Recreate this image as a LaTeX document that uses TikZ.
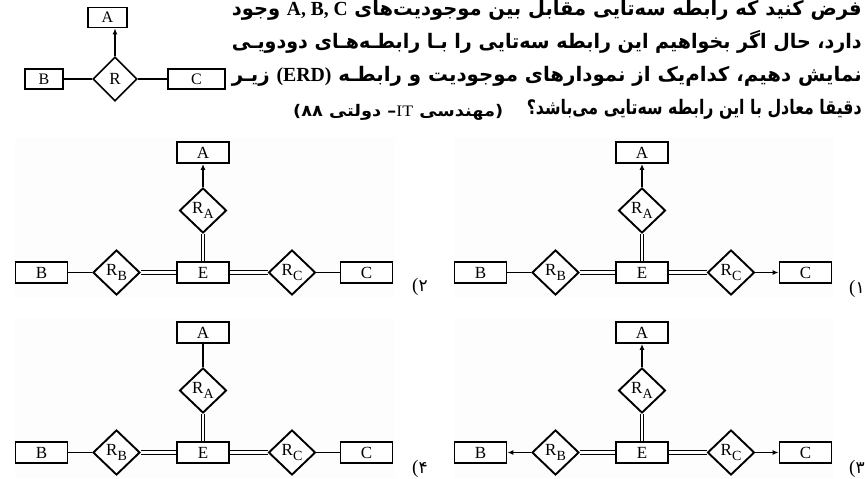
\documentclass[tikz,border=0pt]{standalone}
\usepackage{fontspec}
\usepackage{graphicx}
\usetikzlibrary{shapes.geometric,arrows.meta,backgrounds}
\setmainfont{Liberation Serif}
\newfontfamily\fa[Script=Arabic]{DejaVu Sans}
\newfontfamily\fadig{DejaVu Sans}
\TeXXeTstate=1
\definecolor{panel}{RGB}{253,253,253}
\pgfdeclarelayer{back}
\pgfsetlayers{back,background,main}
\newcommand\Rs[1]{R\kern0.2pt\raisebox{-4.5pt}{\fontsize{14}{14}\selectfont #1}}
\newcommand\optlabel[1]{\hbox{\rmfamily\fontsize{19}{20}\selectfont(}\hbox{\fadig\fontsize{17}{20}\selectfont #1}}
\tikzset{
  ent/.style={draw, fill=white, line width=1.9pt, minimum width=52pt, minimum height=21pt, inner sep=0pt, font=\fontsize{17}{17}\selectfont},
  sent/.style={draw, fill=white, line width=1.6pt, minimum height=20pt, inner sep=0pt, font=\fontsize{16}{16}\selectfont},
  rel/.style={draw, fill=white, diamond, aspect=1, line width=1.9pt, minimum width=47pt, minimum height=45pt, inner sep=0pt, font=\fontsize{17}{17}\selectfont},
  ln/.style={line width=1.3pt},
  arr/.style={line width=1.3pt, -{Latex[length=6pt,width=5pt]}},
  dbl/.style={line width=1.2pt, double, double distance=2.2pt},
  txt/.style={inner sep=0pt, font=\fa\bfseries\fontsize{20}{24}\selectfont},
  lbl/.style={inner sep=0pt},
}
\newcommand\erd[6]{%
\begin{scope}[shift={(#2,#3)}]
  \begin{pgfonlayer}{back}
    \fill[panel] (15,138) rectangle (395,298);
  \end{pgfonlayer}
  \node[ent] (#1A) at (203,152.5) {A};
  \node[rel] (#1RA) at (203,210.5) {\Rs{A}};
  \node[ent] (#1E) at (203,272.5) {E};
  \node[ent] (#1B) at (41.5,272.5) {B};
  \node[rel] (#1RB) at (116.5,272.5) {\Rs{B}};
  \node[rel] (#1RC) at (292,272.5) {\Rs{C}};
  \node[ent] (#1C) at (366.5,272.5) {C};
  \begin{pgfonlayer}{background}
    \draw[dbl] (#1E) -- (#1RA);
    \draw[dbl] (#1E) -- (#1RB);
    \draw[dbl] (#1E) -- (#1RC);
  \end{pgfonlayer}
  \draw[#4] (#1RA) -- (#1A);
  \draw[#5] (#1RB) -- (#1B);
  \draw[#6] (#1RC) -- (#1C);
\end{scope}}
\begin{document}
\begin{tikzpicture}[x=1pt,y=-1pt]
\useasboundingbox (0,0) rectangle (865,479);
\begin{pgfonlayer}{back}
  \fill[white] (0,0) rectangle (865,479);
\end{pgfonlayer}
% small ternary diagram
\node[sent, minimum width=39pt] (sA) at (107.5,17.5) {A};
\node[sent, minimum width=38pt] (sB) at (44,79) {B};
\node[rel, minimum width=44pt, minimum height=44pt, line width=1.6pt] (sR) at (115,79) {R};
\node[sent, minimum width=57pt] (sC) at (196.5,79) {C};
\draw[arr] (sR.north) -- (sR.north |- sA.south);
\draw[ln] (sB) -- (sR);
\draw[ln] (sR) -- (sC);
% question text
\node[txt, anchor=base east] (t1) at (862,15) {\resizebox{630pt}{\height}{\beginR فرض کنید که رابطه سه^^^^200cتایی مقابل بین موجودیت^^^^200cهای \beginL{\rmfamily\bfseries A, B, C}\endL{} وجود\endR}};
\node[txt, anchor=base east] (t2) at (862,48) {\resizebox{630pt}{\height}{\beginR دارد، حال اگر بخواهیم این رابطه سه^^^^200cتایی را بـا رابطـه^^^^200cهـای دودویـی\endR}};
\node[txt, anchor=base east] (t3) at (862,81) {\resizebox{630pt}{\height}{\beginR نمایش دهیم، کدام^^^^200cیک از نمودارهای موجودیت و رابطـه \beginL{\rmfamily\bfseries (ERD)}\endL{} زیـر\endR}};
\node[txt, anchor=base east] (t4) at (862,114) {\resizebox{335pt}{\height}{\beginR دقیقا معادل با این رابطه سه^^^^200cتایی می^^^^200cباشد؟\endR}};
\node[inner sep=0pt, anchor=base west, font=\fa\bfseries\fontsize{16}{20}\selectfont] (t5) at (293,116) {\resizebox{210pt}{\height}{\beginR (مهندسی \beginL{\rmfamily\mdseries IT}\endL– دولتی ۸۸)\endR}};
% four options
\erd{a}{439}{0}{arr}{ln}{arr}
\erd{b}{0}{0}{arr}{ln}{ln}
\erd{c}{439}{180}{arr}{arr}{arr}
\erd{d}{0}{180}{ln}{ln}{ln}
% option labels
\node[lbl, anchor=base west] (l1) at (849,293) {\optlabel{۱}};
\node[lbl, anchor=base west] (l2) at (412,291) {\optlabel{۲}};
\node[lbl, anchor=base west] (l3) at (849,473) {\optlabel{۳}};
\node[lbl, anchor=base west] (l4) at (412,473) {\optlabel{۴}};
\end{tikzpicture}
\end{document}
